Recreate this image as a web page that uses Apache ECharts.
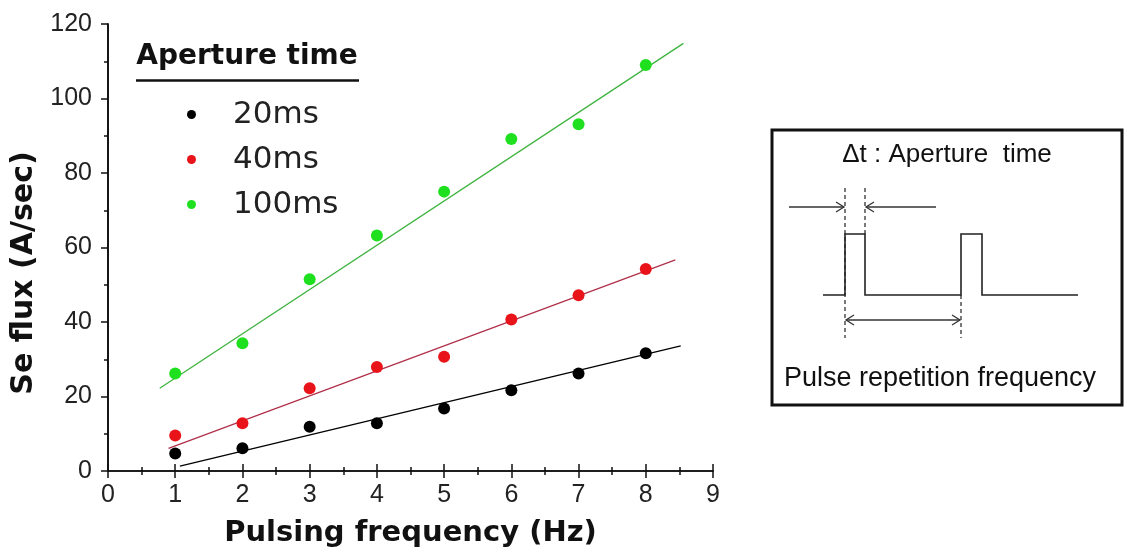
<!DOCTYPE html>
<html>
<head>
<meta charset="utf-8">
<script src="https://cdn.jsdelivr.net/npm/echarts@6/dist/echarts.min.js"></script>
<style>
html,body{margin:0;padding:0;background:#fff;}
#chart{width:1127px;height:555px;}
</style>
</head>
<body>
<div id="chart"></div>
<script>
// ---- data ----
var freq = [1, 2, 3, 4, 5, 6, 7, 8];
var seriesNames = ['20ms', '40ms', '100ms'];
var flux20 = [4.7, 6.1, 11.9, 12.8, 16.8, 21.7, 26.2, 31.6];
var flux40 = [9.5, 12.8, 22.2, 27.9, 30.7, 40.7, 47.2, 54.2];
var flux100 = [26.2, 34.3, 51.5, 63.2, 75.0, 89.1, 93.1, 109.0];
// linear fit endpoints [x, y]
var fit20 = [[1.07, 1.3], [8.52, 33.6]];
var fit40 = [[0.90, 6.1], [8.44, 56.7]];
var fit100 = [[0.77, 22.2], [8.56, 114.8]];
var xTicks = [0, 1, 2, 3, 4, 5, 6, 7, 8, 9];
var yTicks = [0, 20, 40, 60, 80, 100, 120];

var pointColors = ['#000000', '#e8141a', '#1fe01f'];
var lineColors = ['#000000', '#b0304a', '#3fb33f'];

function pairs(xs, ys) { return xs.map(function (x, i) { return [x, ys[i]]; }); }

var chart = echarts.init(document.getElementById('chart'), null, {renderer: 'canvas'});

var axisLine = {show: true, lineStyle: {color: '#111', width: 1.7}};
var tickFont = {fontFamily: 'Liberation Sans, Arial, sans-serif', fontSize: 25, color: '#222'};

var option = {
  backgroundColor: '#fff',
  animation: false,
  grid: {left: 108, right: 414, top: 24, bottom: 84},
  legend: {
    data: seriesNames,
    orient: 'vertical',
    left: 182,
    top: 94,
    icon: 'circle',
    itemWidth: 9,
    itemHeight: 9,
    itemGap: 14,
    textStyle: {fontFamily: 'DejaVu Sans, sans-serif', fontSize: 31, color: '#222', lineHeight: 30, padding: [0, 0, 0, 32]},
    selectedMode: false
  },
  xAxis: [{
    type: 'value', min: xTicks[0], max: xTicks[xTicks.length - 1], interval: 1,
    position: 'bottom',
    axisLine: axisLine,
    axisTick: {show: true, inside: false, length: 7, lineStyle: {color: '#111', width: 1.5}},
    minorTick: {show: true, splitNumber: 2, length: 4, lineStyle: {color: '#111', width: 1.5}},
    axisLabel: Object.assign({margin: 12}, tickFont),
    splitLine: {show: false},
    name: 'Pulsing frequency (Hz)',
    nameLocation: 'middle',
    nameGap: 48,
    nameTextStyle: {fontFamily: 'DejaVu Sans, sans-serif', fontWeight: 'bold', fontSize: 29, color: '#111'}
  }, {
    type: 'value', min: xTicks[0], max: xTicks[xTicks.length - 1], interval: 1,
    position: 'top',
    axisLine: axisLine,
    axisTick: {show: true, inside: false, length: 7, lineStyle: {color: '#111', width: 1.5}},
    minorTick: {show: true, splitNumber: 2, length: 4, lineStyle: {color: '#111', width: 1.5}},
    axisLabel: {show: false},
    splitLine: {show: false}
  }],
  yAxis: [{
    type: 'value', min: yTicks[0], max: yTicks[yTicks.length - 1], interval: 20,
    position: 'left',
    axisLine: axisLine,
    axisTick: {show: true, inside: false, length: 7, lineStyle: {color: '#111', width: 1.5}},
    minorTick: {show: true, splitNumber: 2, length: 4, lineStyle: {color: '#111', width: 1.5}},
    axisLabel: Object.assign({margin: 16}, tickFont),
    splitLine: {show: false}
  }, {
    type: 'value', min: yTicks[0], max: yTicks[yTicks.length - 1], interval: 20,
    position: 'right',
    axisLine: axisLine,
    axisTick: {show: false},
    axisLabel: {show: false},
    splitLine: {show: false}
  }],
  series: [
    {name: 'fit20', type: 'line', data: fit20, showSymbol: false, symbol: 'none', lineStyle: {color: lineColors[0], width: 1.3}, z: 2, silent: true},
    {name: 'fit40', type: 'line', data: fit40, showSymbol: false, symbol: 'none', lineStyle: {color: lineColors[1], width: 1.3}, z: 2, silent: true},
    {name: 'fit100', type: 'line', data: fit100, showSymbol: false, symbol: 'none', lineStyle: {color: lineColors[2], width: 1.3}, z: 2, silent: true},
    {name: seriesNames[0], type: 'scatter', data: pairs(freq, flux20), symbol: 'circle', symbolSize: 12, itemStyle: {color: pointColors[0], opacity: 1}, z: 3},
    {name: seriesNames[1], type: 'scatter', data: pairs(freq, flux40), symbol: 'circle', symbolSize: 12, itemStyle: {color: pointColors[1], opacity: 1}, z: 3},
    {name: seriesNames[2], type: 'scatter', data: pairs(freq, flux100), symbol: 'circle', symbolSize: 12, itemStyle: {color: pointColors[2], opacity: 1}, z: 3}
  ],
  graphic: [
    // y-axis title
    {type: 'text', x: 24, y: 273, rotation: Math.PI / 2,
     style: {text: 'Se flux (A/sec)', font: 'bold 30px "DejaVu Sans", sans-serif', fill: '#111', align: 'center', verticalAlign: 'middle'}},
    // legend title
    {type: 'text', x: 247, y: 57,
     style: {text: 'Aperture time', font: 'bold 28px "DejaVu Sans", sans-serif', fill: '#111', align: 'center', verticalAlign: 'middle'}},
    {type: 'line', shape: {x1: 136, y1: 80.5, x2: 359, y2: 80.5}, style: {stroke: '#111', lineWidth: 2.5}},
    // inset box
    {type: 'rect', shape: {x: 772, y: 130, width: 350, height: 275}, style: {fill: '#fff', stroke: '#111', lineWidth: 3}},
    {type: 'text', x: 947, y: 155,
     style: {text: '\u0394t : Aperture  time', font: '26px "Liberation Sans", Arial, sans-serif', fill: '#111', align: 'center', verticalAlign: 'middle'}},
    {type: 'text', x: 940, y: 379,
     style: {text: 'Pulse repetition frequency', font: '27px "Liberation Sans", Arial, sans-serif', fill: '#111', align: 'center', verticalAlign: 'middle'}},
    // pulse waveform
    {type: 'polyline', shape: {points: [[823, 295], [845, 295], [845, 234], [865, 234], [865, 295], [961, 295], [961, 234], [982, 234], [982, 295], [1078, 295]]},
     style: {stroke: '#222', lineWidth: 1.6, fill: null}},
    // dashed guides
    {type: 'line', shape: {x1: 845, y1: 188, x2: 845, y2: 338}, style: {stroke: '#222', lineWidth: 1.2, lineDash: [4, 3]}},
    {type: 'line', shape: {x1: 865, y1: 188, x2: 865, y2: 234}, style: {stroke: '#222', lineWidth: 1.2, lineDash: [4, 3]}},
    {type: 'line', shape: {x1: 961, y1: 295, x2: 961, y2: 338}, style: {stroke: '#222', lineWidth: 1.2, lineDash: [4, 3]}},
    // top arrows
    {type: 'line', shape: {x1: 789, y1: 207, x2: 844, y2: 207}, style: {stroke: '#333', lineWidth: 1.3}},
    {type: 'polyline', shape: {points: [[836, 202], [844, 207], [836, 212]]}, style: {stroke: '#333', lineWidth: 1.3, fill: null}},
    {type: 'line', shape: {x1: 866, y1: 207, x2: 936, y2: 207}, style: {stroke: '#333', lineWidth: 1.3}},
    {type: 'polyline', shape: {points: [[874, 202], [866, 207], [874, 212]]}, style: {stroke: '#333', lineWidth: 1.3, fill: null}},
    // bottom double arrow
    {type: 'line', shape: {x1: 846, y1: 320, x2: 960, y2: 320}, style: {stroke: '#333', lineWidth: 1.3}},
    {type: 'polyline', shape: {points: [[854, 315], [846, 320], [854, 325]]}, style: {stroke: '#333', lineWidth: 1.3, fill: null}},
    {type: 'polyline', shape: {points: [[952, 315], [960, 320], [952, 325]]}, style: {stroke: '#333', lineWidth: 1.3, fill: null}}
  ]
};
chart.setOption(option);
</script>
</body>
</html>
